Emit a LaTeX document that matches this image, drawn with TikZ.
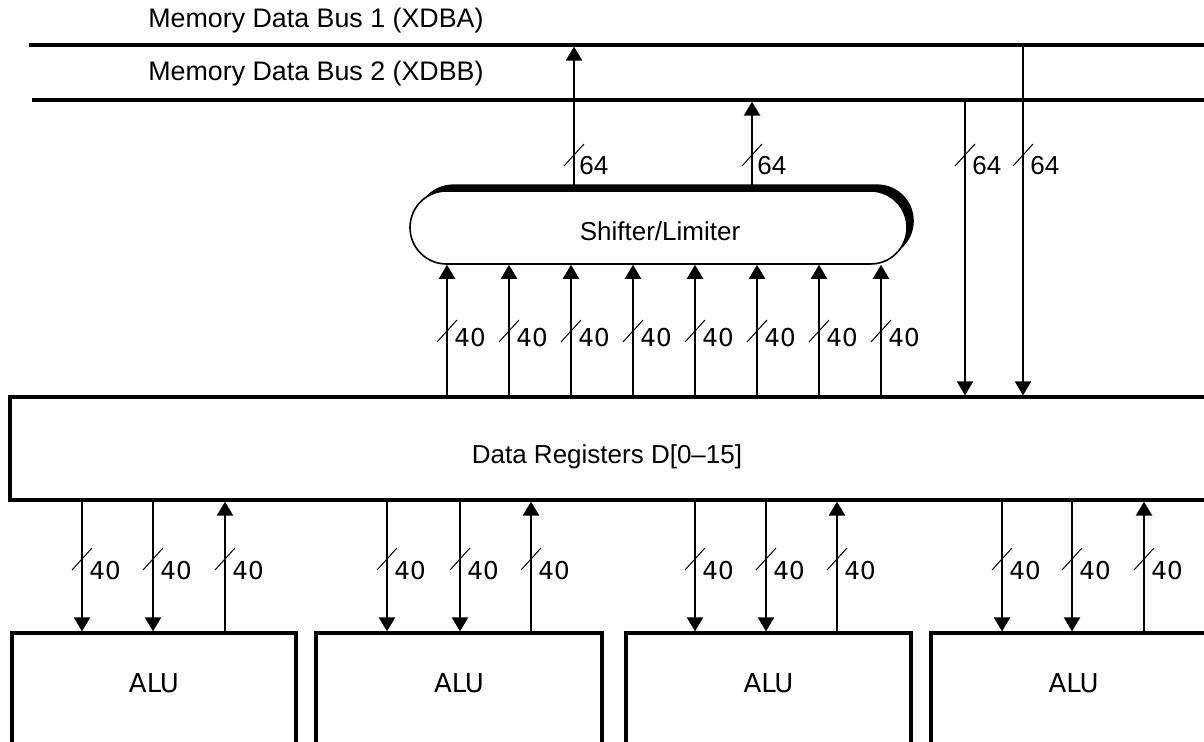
\documentclass[tikz,border=0pt]{standalone}
\usepackage{fontspec}
\setmainfont{Liberation Sans}
\newfontfamily\dvsfont{DejaVu Sans}
\usetikzlibrary{arrows.meta,shadows}
\begin{document}
\begin{tikzpicture}[x=0.5pt,y=-0.5pt,
  bus/.style={line width=1.6pt},
  box/.style={draw, line width=1.6pt, inner sep=0pt, fill=white},
  arr/.style={line width=1.1pt, -{Triangle[length=7pt,width=8pt]}},
  tobus/.style={shorten >=0.8pt},
  slashmark/.style={line width=0.5pt},
  lbl/.style={font=\fontsize{13}{15}\selectfont, inner sep=0pt},
  wlbl/.style={lbl, anchor=west},
  buslbl/.style={font=\fontsize{13.4}{15}\selectfont, inner sep=0pt, anchor=west},
  num/.style={font=\dvsfont\fontsize{12.3}{14}\selectfont, inner sep=0pt, anchor=west},
  alutext/.style={font=\dvsfont\fontsize{13}{15}\selectfont, inner sep=0pt},
]
\useasboundingbox (0,0) rectangle (1204,742);
\clip (0,0) rectangle (1204,742);

% buses
\coordinate (b1w) at (29,45);  \coordinate (b1e) at (1212,45);
\coordinate (b2w) at (32,100); \coordinate (b2e) at (1212,100);
\draw[bus] (b1w) -- (b1e);
\draw[bus] (b2w) -- (b2e);
\node[buslbl] (t1) at (148,21) {Memory Data Bus 1 (XDBA)};
\node[buslbl] (t2) at (148,74) {Memory Data Bus 2 (XDBB)};

% data registers
\node[box, minimum width=598pt, minimum height=51.5pt] (dr) at (608,448.5) {};
\node[lbl] (drt) at (607,457) {Data Registers D[0–15]};

% shifter / limiter
\node[box, line width=0.8pt, rounded corners=18.25pt, minimum width=248.5pt, minimum height=36.5pt,
      drop shadow={shadow xshift=3.4pt, shadow yshift=3.3pt, fill=black, opacity=1}] (sl) at (658.5,227.5) {};
\node[lbl] (slt) at (660,231) {Shifter/Limiter};

% ALUs
\node[box, minimum width=142pt, minimum height=80pt] (alu1) at (154,713) {};
\node[box, minimum width=143pt, minimum height=80pt] (alu2) at (459,713) {};
\node[box, minimum width=142.5pt, minimum height=80pt] (alu3) at (768.5,713) {};
\node[box, minimum width=142.5pt, minimum height=80pt] (alu4) at (1073.5,713) {};
\foreach \a/\x in {alu1/154, alu2/459, alu3/768.5, alu4/1073.5}
  \node[alutext] at (\x,683) {ALU};

% shifter to buses
\draw[arr, tobus] (sl.north -| 574,0) -- (b1w -| 574,0);
\draw[arr, tobus] (sl.north -| 752,0) -- (b2w -| 752,0);
% buses to data registers
\draw[arr] (b2w -| 965,0) -- (dr.north -| 965,0);
\draw[arr] (b1w -| 1023,0) -- (dr.north -| 1023,0);
\foreach \x/\d in {574/5, 752/5, 965/7, 1023/7}{
  \draw[slashmark] (\x-10,166) -- (\x+10,144);
  \node[wlbl] at (\x+\d,166) {64};
}

% data registers to shifter
\foreach \i in {0,...,7}{
  \pgfmathsetmacro{\x}{447+62*\i}
  \draw[arr] (dr.north -| \x,0) -- (sl.south -| \x,0);
  \draw[slashmark] (\x-10,342) -- (\x+10,320);
  \node[num] at (\x+7,338) {40};
}

% data registers <-> ALUs
\foreach \n/\xa/\xb/\xc in {alu1/82/153/225, alu2/387/460/531, alu3/695/766/837, alu4/1002/1072/1144}{
  \draw[arr] (dr.south -| \xa,0) -- (\n.north -| \xa,0);
  \draw[arr] (dr.south -| \xb,0) -- (\n.north -| \xb,0);
  \draw[arr] (\n.north -| \xc,0) -- (dr.south -| \xc,0);
  \foreach \x in {\xa,\xb,\xc}{
    \draw[slashmark] (\x-10,570) -- (\x+10,548);
    \node[num] at (\x+7,571) {40};
  }
}
\end{tikzpicture}
\end{document}
